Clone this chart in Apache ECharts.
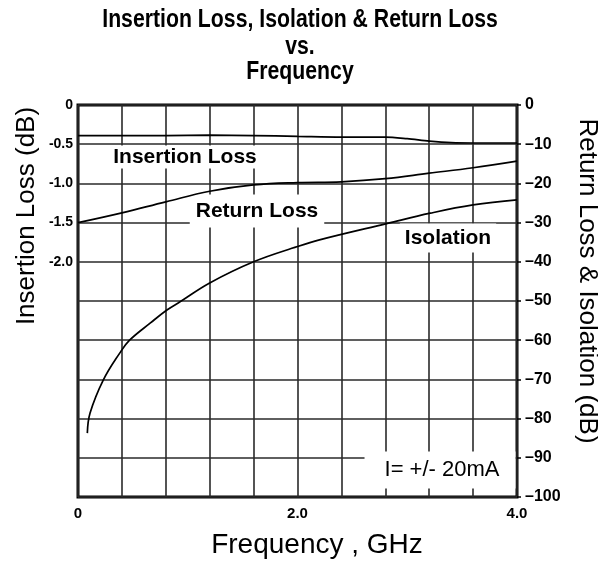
<!DOCTYPE html>
<html>
<head>
<meta charset="utf-8">
<script src="https://cdn.jsdelivr.net/npm/echarts@6/dist/echarts.min.js"></script>
<style>
html,body{margin:0;padding:0;background:#fff;}
#chart{width:598px;height:561px;}
</style>
</head>
<body>
<div id="chart"></div>
<script>
// ---- data ----
const titleLines = ['Insertion Loss, Isolation & Return Loss', 'vs.', 'Frequency'];
const xTickLabels = {0: '0', 2: '2.0', 4: '4.0'};
const leftTickLabels = ['0', '-0.5', '-1.0', '-1.5', '-2.0'];

// Frequency (GHz) and Insertion Loss (dB, left axis)
const insFreq = [0, 0.4, 0.8, 1.2, 1.6, 2.0, 2.4, 2.8, 3.0, 3.2, 3.4, 3.6, 4.0];
const insLoss = [-0.39, -0.39, -0.39, -0.385, -0.39, -0.40, -0.41, -0.41, -0.43, -0.46, -0.48, -0.485, -0.485];

// Return Loss (dB, right axis)
const rlFreq = [0, 0.4, 0.8, 1.2, 1.6, 2.0, 2.4, 2.8, 3.2, 3.6, 4.0];
const rlVals = [-30, -27.5, -24.7, -22, -20.4, -19.8, -19.6, -18.8, -17.4, -16, -14.3];

// Isolation (dB, right axis)
const isoFreq = [0.085, 0.11, 0.23, 0.38, 0.47, 0.66, 0.81, 0.93, 1.2, 1.6, 2.0, 2.2, 2.82, 3.21, 3.6, 4.0];
const isoVals = [-83.7, -78.6, -70.2, -63.3, -60, -55.6, -52.3, -50.2, -45.4, -40, -36.1, -34.4, -30.2, -27.6, -25.5, -24.2];

const zip = (a, b) => a.map((v, i) => [v, b[i]]);

const chart = echarts.init(document.getElementById('chart'));
const FONT = 'Liberation Sans, Arial, sans-serif';

const titleY = [20, 47, 72];
const titleGraphics = titleLines.map((t, i) => ({
  type: 'text', x: 300, y: titleY[i], scaleX: 0.85, z: 10,
  style: {text: t, font: 'bold 25px ' + FONT, fill: '#000', textAlign: 'center', textVerticalAlign: 'middle'}
}));

const option = {
  backgroundColor: '#fff',
  animation: false,
  grid: {left: 78, right: 81, top: 105, bottom: 64, show: true, borderColor: '#000', borderWidth: 3, backgroundColor: 'transparent'},
  xAxis: {
    type: 'value', min: 0, max: 4, interval: 0.4,
    axisLine: {show: false},
    axisTick: {show: false},
    splitLine: {show: true, lineStyle: {color: '#2a2a2a', width: 1.6}},
    axisLabel: {
      margin: 9, color: '#000', fontWeight: 'bold', fontSize: 15, fontFamily: FONT,
      formatter: v => { const k = Math.round(v * 10) / 10; return xTickLabels[k] !== undefined ? xTickLabels[k] : ''; }
    }
  },
  yAxis: [
    {
      type: 'value', position: 'left', min: -5, max: 0, interval: 0.5,
      axisLine: {show: false}, axisTick: {show: false}, splitLine: {show: false},
      axisLabel: {
        margin: 5, color: '#000', fontWeight: 'bold', fontSize: 14, fontFamily: FONT,
        formatter: v => { const idx = Math.round(-v / 0.5); return idx < leftTickLabels.length ? leftTickLabels[idx] : ''; }
      }
    },
    {
      type: 'value', position: 'right', min: -100, max: 0, interval: 10,
      axisLine: {show: false},
      axisTick: {show: true, inside: false, length: 4, lineStyle: {color: '#000', width: 1.5}},
      splitLine: {show: true, lineStyle: {color: '#2a2a2a', width: 1.6}},
      axisLabel: {
        margin: 8, color: '#000', fontWeight: 'bold', fontSize: 16, fontFamily: FONT,
        formatter: v => String(Math.round(v)).replace('-', '\u2013')
      }
    }
  ],
  series: [
    {type: 'line', name: 'Insertion Loss', yAxisIndex: 0, data: zip(insFreq, insLoss), smooth: 0.3, symbol: 'none',
     lineStyle: {color: '#000', width: 1.7}, z: 20},
    {type: 'line', name: 'Return Loss', yAxisIndex: 1, data: zip(rlFreq, rlVals), smooth: 0.4, symbol: 'none',
     lineStyle: {color: '#000', width: 1.7}, z: 20},
    {type: 'line', name: 'Isolation', yAxisIndex: 1, data: zip(isoFreq, isoVals), smooth: 0.4, symbol: 'none',
     lineStyle: {color: '#000', width: 1.7}, z: 20}
  ],
  graphic: titleGraphics.concat([
    {type: 'text', x: 27, y: 216, rotation: Math.PI / 2, z: 10,
     style: {text: 'Insertion Loss (dB)', font: '26px ' + FONT, fill: '#000', textAlign: 'center', textVerticalAlign: 'middle'}},
    {type: 'text', x: 587, y: 281, rotation: -Math.PI / 2, z: 10,
     style: {text: 'Return Loss & Isolation (dB)', font: '26px ' + FONT, fill: '#000', textAlign: 'center', textVerticalAlign: 'middle'}},
    {type: 'text', x: 317, y: 545, z: 10,
     style: {text: 'Frequency , GHz', font: '28px ' + FONT, fill: '#000', textAlign: 'center', textVerticalAlign: 'middle'}},
    {type: 'text', x: 185, y: 157, z: 10,
     style: {text: 'Insertion Loss', font: 'bold 21px ' + FONT, fill: '#000', textAlign: 'center', textVerticalAlign: 'middle',
             backgroundColor: '#fff', padding: [1, 8, 1, 8]}},
    {type: 'text', x: 257, y: 211, z: 10,
     style: {text: 'Return Loss', font: 'bold 21px ' + FONT, fill: '#000', textAlign: 'center', textVerticalAlign: 'middle',
             backgroundColor: '#fff', padding: [10, 6, 2, 6]}},
    {type: 'text', x: 448, y: 238, z: 10,
     style: {text: 'Isolation', font: 'bold 21px ' + FONT, fill: '#000', textAlign: 'center', textVerticalAlign: 'middle',
             backgroundColor: '#fff', padding: [4, 5, 4, 5]}},
    {type: 'text', x: 440, y: 470, z: 10,
     style: {text: 'I= +/- 20mA', font: '22px ' + FONT, fill: '#000', textAlign: 'center', textVerticalAlign: 'middle',
             backgroundColor: '#fff', padding: [8, 16, 7, 20]}}
  ])
};
chart.setOption(option);
</script>
</body>
</html>
